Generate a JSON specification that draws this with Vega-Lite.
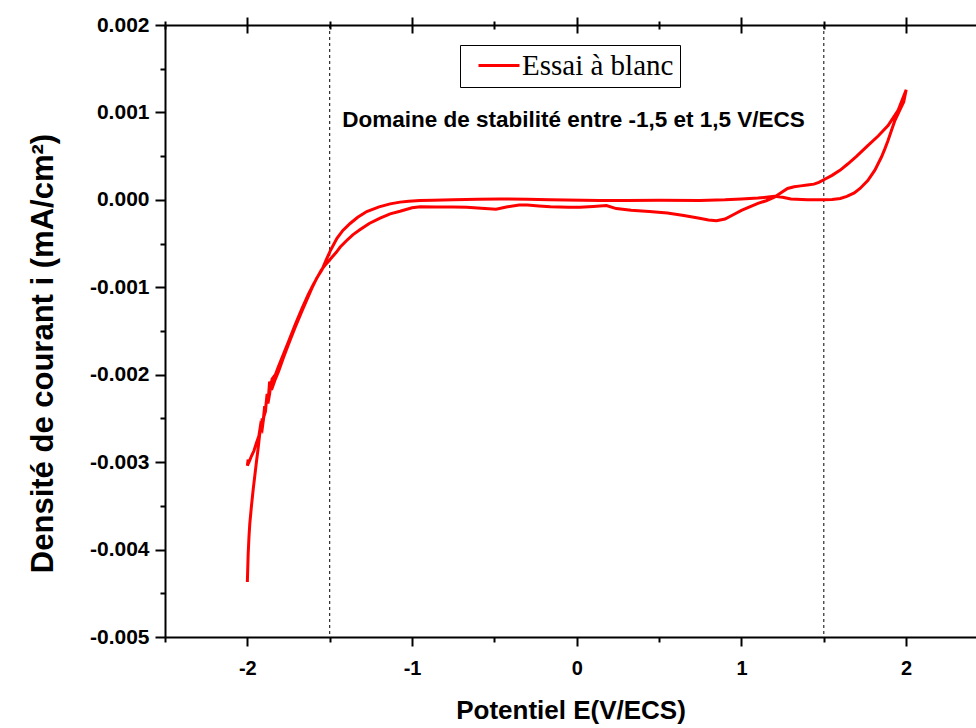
{
  "$schema": "https://vega.github.io/schema/vega-lite/v6.json",
  "width": 811,
  "height": 612,
  "autosize": "none",
  "padding": {"left": 165, "top": 25, "right": 0, "bottom": 91},
  "background": "white",
  "config": {
    "view": {"stroke": null},
    "font": "Liberation Sans",
    "locale": {"number": {"decimal": ".", "thousands": ",", "grouping": [3], "currency": ["$", ""], "minus": "-"}},
    "axis": {"domainColor": "black", "tickColor": "black", "domainWidth": 2, "tickWidth": 2, "grid": false, "labelColor": "black", "titleColor": "black"}
  },
  "datasets": {
    "cv": [
      {"k": 1, "E": -2.0, "i": -0.00437},
      {"k": 2, "E": -1.995, "i": -0.00405},
      {"k": 3, "E": -1.99, "i": -0.00385},
      {"k": 4, "E": -1.985, "i": -0.0037},
      {"k": 5, "E": -1.975, "i": -0.0035},
      {"k": 6, "E": -1.965, "i": -0.00332},
      {"k": 7, "E": -1.955, "i": -0.00316},
      {"k": 8, "E": -1.945, "i": -0.003},
      {"k": 9, "E": -1.935, "i": -0.00285},
      {"k": 10, "E": -1.925, "i": -0.00268},
      {"k": 11, "E": -1.915, "i": -0.00262},
      {"k": 12, "E": -1.91, "i": -0.0025},
      {"k": 13, "E": -1.905, "i": -0.00255},
      {"k": 14, "E": -1.895, "i": -0.00236},
      {"k": 15, "E": -1.89, "i": -0.0024},
      {"k": 16, "E": -1.88, "i": -0.00222},
      {"k": 17, "E": -1.872, "i": -0.00226},
      {"k": 18, "E": -1.865, "i": -0.00208},
      {"k": 19, "E": -1.858, "i": -0.00218},
      {"k": 20, "E": -1.85, "i": -0.00205},
      {"k": 21, "E": -1.83, "i": -0.002},
      {"k": 22, "E": -1.81, "i": -0.0019},
      {"k": 23, "E": -1.78, "i": -0.00176},
      {"k": 24, "E": -1.75, "i": -0.00162},
      {"k": 25, "E": -1.71, "i": -0.00143},
      {"k": 26, "E": -1.668, "i": -0.00124},
      {"k": 27, "E": -1.63, "i": -0.00108},
      {"k": 28, "E": -1.6, "i": -0.00097},
      {"k": 29, "E": -1.55, "i": -0.0008},
      {"k": 30, "E": -1.52, "i": -0.00073},
      {"k": 31, "E": -1.493, "i": -0.00067},
      {"k": 32, "E": -1.46, "i": -0.0006},
      {"k": 33, "E": -1.436, "i": -0.00054},
      {"k": 34, "E": -1.4, "i": -0.00047},
      {"k": 35, "E": -1.36, "i": -0.0004},
      {"k": 36, "E": -1.315, "i": -0.00034},
      {"k": 37, "E": -1.26, "i": -0.00027},
      {"k": 38, "E": -1.194, "i": -0.00021},
      {"k": 39, "E": -1.133, "i": -0.00016},
      {"k": 40, "E": -1.073, "i": -0.00013},
      {"k": 41, "E": -1.0, "i": -0.00009},
      {"k": 42, "E": -0.95, "i": -0.00008},
      {"k": 43, "E": -0.85, "i": -0.000082},
      {"k": 44, "E": -0.75, "i": -0.000083},
      {"k": 45, "E": -0.668, "i": -0.000084},
      {"k": 46, "E": -0.58, "i": -0.000095},
      {"k": 47, "E": -0.49, "i": -0.000106},
      {"k": 48, "E": -0.42, "i": -0.00008},
      {"k": 49, "E": -0.35, "i": -0.00006},
      {"k": 50, "E": -0.3, "i": -0.00006},
      {"k": 51, "E": -0.23, "i": -0.00007},
      {"k": 52, "E": -0.16, "i": -0.00008},
      {"k": 53, "E": -0.05, "i": -0.000085},
      {"k": 54, "E": 0.02, "i": -0.000084},
      {"k": 55, "E": 0.1, "i": -0.000075},
      {"k": 56, "E": 0.18, "i": -0.000065},
      {"k": 57, "E": 0.24, "i": -0.0001},
      {"k": 58, "E": 0.33, "i": -0.00012},
      {"k": 59, "E": 0.44, "i": -0.000134},
      {"k": 60, "E": 0.55, "i": -0.00015},
      {"k": 61, "E": 0.65, "i": -0.00018},
      {"k": 62, "E": 0.745, "i": -0.00021},
      {"k": 63, "E": 0.8, "i": -0.00023},
      {"k": 64, "E": 0.848, "i": -0.00024},
      {"k": 65, "E": 0.9, "i": -0.00022},
      {"k": 66, "E": 0.95, "i": -0.00017},
      {"k": 67, "E": 1.0, "i": -0.00012},
      {"k": 68, "E": 1.05, "i": -0.00008},
      {"k": 69, "E": 1.1, "i": -0.00004},
      {"k": 70, "E": 1.15, "i": -0.00001},
      {"k": 71, "E": 1.2, "i": 0.00003},
      {"k": 72, "E": 1.24, "i": 0.00008},
      {"k": 73, "E": 1.28, "i": 0.00013},
      {"k": 74, "E": 1.32, "i": 0.00015},
      {"k": 75, "E": 1.36, "i": 0.00016},
      {"k": 76, "E": 1.4, "i": 0.00017},
      {"k": 77, "E": 1.44, "i": 0.00018},
      {"k": 78, "E": 1.47, "i": 0.0002},
      {"k": 79, "E": 1.5, "i": 0.00023},
      {"k": 80, "E": 1.55, "i": 0.00028},
      {"k": 81, "E": 1.6, "i": 0.00034},
      {"k": 82, "E": 1.645, "i": 0.00041},
      {"k": 83, "E": 1.7, "i": 0.0005},
      {"k": 84, "E": 1.767, "i": 0.00062},
      {"k": 85, "E": 1.83, "i": 0.00073},
      {"k": 86, "E": 1.89, "i": 0.00085},
      {"k": 87, "E": 1.95, "i": 0.00102},
      {"k": 88, "E": 2.0, "i": 0.00126},
      {"k": 89, "E": 1.985, "i": 0.00112},
      {"k": 90, "E": 1.965, "i": 0.00104},
      {"k": 91, "E": 1.95, "i": 0.00098},
      {"k": 92, "E": 1.93, "i": 0.0009},
      {"k": 93, "E": 1.91, "i": 0.00079},
      {"k": 94, "E": 1.89, "i": 0.00068},
      {"k": 95, "E": 1.87, "i": 0.00058},
      {"k": 96, "E": 1.85, "i": 0.00049},
      {"k": 97, "E": 1.81, "i": 0.00034},
      {"k": 98, "E": 1.767, "i": 0.00022},
      {"k": 99, "E": 1.72, "i": 0.00013},
      {"k": 100, "E": 1.685, "i": 0.00008},
      {"k": 101, "E": 1.64, "i": 0.00004},
      {"k": 102, "E": 1.6, "i": 0.000015},
      {"k": 103, "E": 1.55, "i": 0.000005},
      {"k": 104, "E": 1.5, "i": 0.0},
      {"k": 105, "E": 1.4, "i": 0.0},
      {"k": 106, "E": 1.3, "i": 0.00001},
      {"k": 107, "E": 1.25, "i": 0.00003},
      {"k": 108, "E": 1.2, "i": 0.00004},
      {"k": 109, "E": 1.15, "i": 0.00003},
      {"k": 110, "E": 1.1, "i": 0.00002},
      {"k": 111, "E": 1.0, "i": 0.00001},
      {"k": 112, "E": 0.9, "i": 0.0},
      {"k": 113, "E": 0.745, "i": -0.000008},
      {"k": 114, "E": 0.5, "i": -0.000005},
      {"k": 115, "E": 0.3, "i": -0.000006},
      {"k": 116, "E": 0.14, "i": -0.000008},
      {"k": 117, "E": -0.164, "i": 0.0},
      {"k": 118, "E": -0.3, "i": 0.000008},
      {"k": 119, "E": -0.467, "i": 0.000011},
      {"k": 120, "E": -0.6, "i": 0.000008},
      {"k": 121, "E": -0.75, "i": 0.0},
      {"k": 122, "E": -0.873, "i": -0.000004},
      {"k": 123, "E": -0.952, "i": -0.000008},
      {"k": 124, "E": -1.02, "i": -0.000015},
      {"k": 125, "E": -1.073, "i": -0.000026},
      {"k": 126, "E": -1.133, "i": -0.000046},
      {"k": 127, "E": -1.2, "i": -0.00008},
      {"k": 128, "E": -1.275, "i": -0.000134},
      {"k": 129, "E": -1.33, "i": -0.0002},
      {"k": 130, "E": -1.376, "i": -0.00027},
      {"k": 131, "E": -1.42, "i": -0.00035},
      {"k": 132, "E": -1.456, "i": -0.00044},
      {"k": 133, "E": -1.493, "i": -0.00057},
      {"k": 134, "E": -1.52, "i": -0.00068},
      {"k": 135, "E": -1.547, "i": -0.0008},
      {"k": 136, "E": -1.58, "i": -0.0009},
      {"k": 137, "E": -1.608, "i": -0.00101},
      {"k": 138, "E": -1.668, "i": -0.00127},
      {"k": 139, "E": -1.71, "i": -0.00146},
      {"k": 140, "E": -1.75, "i": -0.00165},
      {"k": 141, "E": -1.78, "i": -0.0018},
      {"k": 142, "E": -1.81, "i": -0.00196},
      {"k": 143, "E": -1.83, "i": -0.00205},
      {"k": 144, "E": -1.845, "i": -0.00213},
      {"k": 145, "E": -1.855, "i": -0.00207},
      {"k": 146, "E": -1.865, "i": -0.00222},
      {"k": 147, "E": -1.875, "i": -0.00233},
      {"k": 148, "E": -1.882, "i": -0.00225},
      {"k": 149, "E": -1.89, "i": -0.00242},
      {"k": 150, "E": -1.9, "i": -0.00248},
      {"k": 151, "E": -1.91, "i": -0.00262},
      {"k": 152, "E": -1.92, "i": -0.00258},
      {"k": 153, "E": -1.93, "i": -0.0027},
      {"k": 154, "E": -1.945, "i": -0.00278},
      {"k": 155, "E": -1.96, "i": -0.00287},
      {"k": 156, "E": -1.975, "i": -0.00293},
      {"k": 157, "E": -1.99, "i": -0.003},
      {"k": 158, "E": -2.0, "i": -0.00304},
      {"k": 159, "E": -1.995, "i": -0.00297}
    ],
    "lims": [{"E": -1.5}, {"E": 1.5}],
    "note": [{"E": -0.02, "i": 0.000915, "t": "Domaine de stabilité entre -1,5 et 1,5 V/ECS"}]
  },
  "resolve": {"axis": {"x": "independent"}},
  "layer": [
    {
      "data": {"name": "lims"},
      "mark": {"type": "rule", "color": "black", "strokeWidth": 1, "strokeDash": [3, 3]},
      "encoding": {
        "x": {
          "field": "E", "type": "quantitative",
          "scale": {"domain": [-2.5, 2.424], "nice": false, "zero": false},
          "axis": {
            "orient": "top", "title": null, "labels": false, "domain": true,
            "values": [-2.5, -2, -1.5, -1, -0.5, 0, 0.5, 1, 1.5, 2, 2.5],
            "tickSize": {"condition": {"test": "abs(datum.value - round(datum.value)) > 0.01", "value": 4}, "value": 8}
          }
        }
      }
    },
    {
      "data": {"name": "note"},
      "mark": {"type": "text", "font": "Liberation Sans", "fontWeight": "bold", "fontSize": 22.5, "color": "black"},
      "encoding": {
        "x": {
          "field": "E", "type": "quantitative",
          "axis": {
            "orient": "top", "title": null, "labels": false, "domain": false,
            "values": [-2.5, -2, -1.5, -1, -0.5, 0, 0.5, 1, 1.5, 2, 2.5],
            "tickSize": {"condition": {"test": "abs(datum.value - round(datum.value)) > 0.01", "value": -4}, "value": -8}
          }
        },
        "y": {"field": "i", "type": "quantitative"},
        "text": {"field": "t"}
      }
    },
    {
      "data": {"name": "cv"},
      "mark": {"type": "line", "strokeWidth": 3, "interpolate": "linear"},
      "encoding": {
        "x": {
          "field": "E", "type": "quantitative",
          "axis": {
            "orient": "bottom", "title": "Potentiel E(V/ECS)",
            "values": [-2.5, -2, -1.5, -1, -0.5, 0, 0.5, 1, 1.5, 2, 2.5],
            "labelExpr": "abs(datum.value - round(datum.value)) > 0.01 ? '' : format(datum.value, 'd')",
            "tickSize": {"condition": {"test": "abs(datum.value - round(datum.value)) > 0.01", "value": 5}, "value": 9},
            "labelFont": "Liberation Sans", "labelFontWeight": "bold", "labelFontSize": 20, "labelPadding": 12,
            "titleFont": "Liberation Sans", "titleFontWeight": "bold", "titleFontSize": 26, "titlePadding": 19
          }
        },
        "y": {
          "field": "i", "type": "quantitative",
          "scale": {"domain": [-0.005, 0.002], "nice": false, "zero": false},
          "axis": {
            "orient": "left", "title": "Densité de courant i (mA/cm²)",
            "values": [-0.005, -0.0045, -0.004, -0.0035, -0.003, -0.0025, -0.002, -0.0015, -0.001, -0.0005, 0, 0.0005, 0.001, 0.0015, 0.002],
            "labelExpr": "abs(round(datum.value * 10000)) % 10 != 0 ? '' : format(datum.value, '.3f')",
            "tickSize": {"condition": {"test": "abs(round(datum.value * 10000)) % 10 != 0", "value": 5}, "value": 10},
            "labelFont": "Liberation Sans", "labelFontWeight": "bold", "labelFontSize": 21, "labelPadding": 6,
            "titleFont": "Liberation Sans", "titleFontWeight": "bold", "titleFontSize": 31, "titlePadding": 30, "titleY": 328
          }
        },
        "order": {"field": "k", "type": "quantitative"},
        "color": {
          "datum": "Essai à blanc",
          "type": "nominal",
          "scale": {"range": ["#ff0000"]},
          "legend": {
            "orient": "none", "legendX": 295, "legendY": 20, "title": null,
            "strokeColor": "black", "fillColor": "white", "padding": 6,
            "symbolType": "M -0.2 0 L 3.9 0", "symbolSize": 400, "symbolStrokeWidth": 3,
            "labelFont": "Liberation Serif", "labelFontSize": 29, "labelColor": "black", "labelOffset": 27
          }
        }
      }
    }
  ]
}
